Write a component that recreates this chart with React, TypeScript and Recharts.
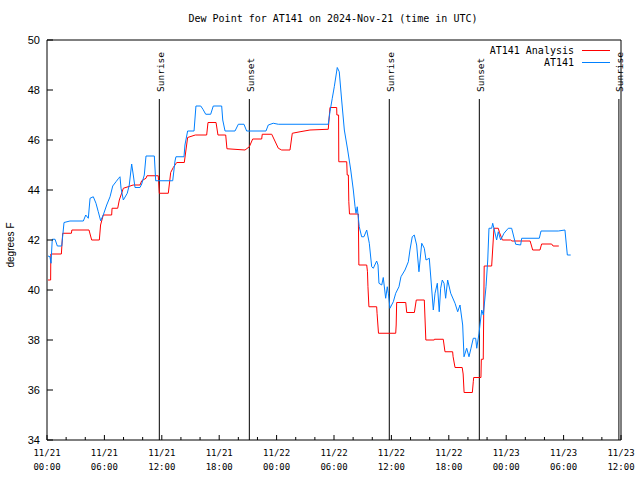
import { Legend, Line, LineChart, ReferenceLine, XAxis, YAxis } from "recharts";

// hours since 11/21 00:00 UTC, dew point in degrees F
const analysisSeries: [number, number][] = [
  [0.1, 40.4], [0.38, 40.4], [0.4, 41.44], [1.5, 41.44], [1.64, 42.27], [2.55, 42.27], [2.6, 42.4],
  [4.39, 42.4], [4.67, 42.0], [5.47, 42.0], [5.6, 42.6], [5.88, 43.0], [6.76, 43.0], [6.8, 43.27],
  [7.39, 43.27], [7.56, 43.6], [7.98, 44.07], [8.47, 44.13], [9.0, 44.2], [9.72, 44.2], [9.9, 44.37],
  [10.35, 44.47], [10.45, 44.57], [11.63, 44.57], [11.74, 43.87], [12.68, 43.87], [12.93, 44.7],
  [13.2, 44.9], [13.56, 45.1], [14.35, 45.1], [14.7, 46.1], [15.5, 46.2], [16.69, 46.2], [16.83, 46.7],
  [17.67, 46.7], [17.87, 46.2], [18.68, 46.2], [18.81, 45.65], [20.7, 45.6], [21.15, 45.73],
  [21.5, 46.04], [22.44, 46.04], [22.5, 46.23], [23.49, 46.23], [24.18, 45.67], [24.53, 45.6],
  [25.4, 45.6], [25.64, 46.27], [26.45, 46.33], [27.49, 46.4], [29.4, 46.43], [29.58, 47.3],
  [30.28, 47.3], [30.3, 47.0], [30.48, 47.0], [30.5, 45.13], [31.33, 45.13], [31.38, 44.6],
  [31.5, 44.6], [31.55, 43.53], [31.62, 43.04], [32.54, 43.04], [32.6, 41.0], [33.42, 41.0],
  [33.5, 40.73], [33.55, 40.13], [33.65, 39.33], [34.46, 39.33], [34.5, 39.07], [34.65, 38.27],
  [36.45, 38.27], [36.5, 38.6], [36.55, 39.5], [37.5, 39.5], [37.6, 39.1], [38.4, 39.1], [38.6, 39.6],
  [39.44, 39.6], [39.6, 38.0], [40.48, 38.0], [40.5, 38.03], [41.42, 38.03], [41.6, 37.53],
  [42.4, 37.53], [42.45, 37.33], [42.65, 36.9], [43.4, 36.9], [43.5, 36.64], [43.6, 35.9],
  [44.46, 35.9], [44.56, 36.33], [44.6, 36.5], [45.36, 36.5], [45.4, 37.23], [45.6, 37.23],
  [45.7, 40.96], [46.48, 40.96], [46.72, 42.47], [47.17, 42.47], [47.3, 42.3], [47.6, 42.0],
  [48.47, 42.0], [48.6, 41.96], [50.5, 41.96], [50.77, 41.6], [51.53, 41.6], [51.7, 41.84],
  [52.75, 41.84], [52.9, 41.76], [53.5, 41.76],
];

const stationSeries: [number, number][] = [
  [0.1, 41.36], [0.31, 41.33], [0.42, 41.07], [0.55, 42.03], [0.84, 42.03], [1.08, 41.76], [1.54, 41.76],
  [1.78, 42.7], [2.4, 42.76], [3.8, 42.76], [4.05, 43.0], [4.32, 42.87], [4.5, 43.67], [4.84, 43.73],
  [5.12, 43.47], [5.36, 43.13], [5.61, 42.77], [5.88, 43.0], [6.24, 43.4], [6.59, 43.73], [6.87, 44.16],
  [7.21, 44.33], [7.49, 44.47], [7.63, 44.53], [7.74, 44.07], [7.98, 43.6], [8.39, 43.87], [8.6, 44.2],
  [8.85, 45.04], [9.02, 44.6], [9.2, 44.1], [9.72, 44.1], [9.9, 44.24], [10.17, 44.6], [10.35, 45.36],
  [11.22, 45.36], [11.36, 44.37], [13.14, 44.37], [13.38, 45.16], [13.48, 45.33], [14.32, 45.33],
  [14.42, 45.8], [14.7, 46.36], [15.37, 46.36], [15.57, 47.36], [16.07, 47.36], [16.3, 47.23],
  [16.59, 47.03], [17.11, 47.03], [17.38, 47.36], [18.26, 47.36], [18.37, 46.8], [18.61, 46.36],
  [19.65, 46.36], [20.0, 46.63], [20.59, 46.63], [20.87, 46.36], [22.89, 46.36], [23.13, 46.6],
  [23.65, 46.67], [24.18, 46.63], [29.4, 46.63], [29.58, 47.13], [29.82, 47.67], [30.03, 48.13],
  [30.34, 48.9], [30.55, 48.73], [30.8, 47.6], [31.08, 46.4], [31.43, 45.6], [31.75, 44.8],
  [32.02, 44.0], [32.2, 43.33], [32.3, 43.07], [32.37, 43.2], [32.43, 43.33], [32.64, 42.53],
  [32.89, 42.13], [33.13, 42.13], [33.42, 42.4], [33.69, 41.87], [33.94, 40.93], [34.11, 40.87],
  [34.46, 41.16], [34.6, 41.0], [34.7, 40.27], [34.99, 40.2], [35.15, 40.5], [35.4, 39.67],
  [35.57, 40.13], [35.68, 39.87], [35.85, 39.27], [36.2, 39.53], [36.45, 39.87], [36.79, 40.13],
  [37.0, 40.53], [37.42, 40.8], [37.77, 41.13], [37.94, 41.6], [38.18, 42.13], [38.39, 42.2],
  [38.64, 41.8], [38.88, 40.73], [39.17, 41.87], [39.44, 41.67], [39.62, 41.2], [39.96, 41.27],
  [40.14, 40.4], [40.38, 39.2], [40.56, 39.87], [40.8, 40.27], [41.0, 39.13], [41.15, 40.07],
  [41.32, 40.4], [41.5, 40.27], [41.67, 39.67], [41.88, 40.4], [42.2, 39.87], [42.65, 39.47],
  [42.93, 39.13], [43.17, 39.4], [43.45, 38.6], [43.59, 37.33], [43.87, 37.67], [44.11, 37.33],
  [44.32, 37.67], [44.56, 38.07], [44.81, 38.07], [44.92, 37.67], [45.16, 38.27], [45.44, 39.2],
  [45.61, 39.0], [45.89, 40.13], [46.07, 41.2], [46.2, 42.47], [46.48, 42.47], [46.59, 42.67],
  [46.76, 42.4], [47.0, 42.0], [47.17, 42.33], [47.42, 42.0], [47.77, 42.27], [48.22, 42.47],
  [48.57, 42.47], [48.99, 41.83], [49.51, 41.8], [49.62, 42.07], [51.46, 42.07], [51.64, 42.36],
  [53.45, 42.36], [54.14, 42.4], [54.39, 41.4], [54.74, 41.4],
];

const sunTimes = [11.74, 21.15, 35.78, 45.19, 59.78];
const sunLabels = ["Sunrise", "Sunset", "Sunrise", "Sunset", "Sunrise"];

const xTicks = [0, 2, 4, 6, 8, 10, 12, 14, 16, 18, 20, 22, 24, 26, 28, 30, 32, 34, 36, 38, 40, 42, 44, 46, 48, 50, 52, 54, 56, 58, 60];
const yTicks = [34, 36, 38, 40, 42, 44, 46, 48, 50];

const MONO = '"DejaVu Sans Mono", monospace';
const SANS = '"Liberation Sans", Arial, sans-serif';
const RED = "#ff0000";
const BLUE = "#0080ff";

const toRows = (pts: [number, number][]) => pts.map(([t, v]) => ({ t, v }));

function tickText(h: number) {
  const day = 21 + Math.floor(h / 24);
  const hh = h % 24;
  return [`11/${day}`, `${String(hh).padStart(2, "0")}:00`];
}

function BottomTick({ x, y, payload }: any) {
  const major = payload.value % 6 === 0;
  const [d, t] = tickText(payload.value);
  return (
    <g>
      <line x1={x} y1={y} x2={x} y2={y - (major ? 5 : 3)} stroke="#000" />
      {major && (
        <text textAnchor="middle" fontFamily={MONO} fontSize={9} fill="#000">
          <tspan x={x} y={y + 16}>{d}</tspan>
          <tspan x={x} y={y + 30}>{t}</tspan>
        </text>
      )}
    </g>
  );
}

function TopTick({ x, y, payload }: any) {
  const major = payload.value % 6 === 0;
  return <line x1={x} y1={y} x2={x} y2={y + (major ? 5 : 3)} stroke="#000" />;
}

function LeftTick({ x, y, payload }: any) {
  return (
    <g>
      <line x1={x} y1={y} x2={x + 6} y2={y} stroke="#000" />
      <text x={x - 7} y={y} textAnchor="end" dominantBaseline="central" fontFamily={SANS} fontSize={11} fill="#000">
        {payload.value}
      </text>
    </g>
  );
}

function RightTick({ x, y }: any) {
  return <line x1={x} y1={y} x2={x - 6} y2={y} stroke="#000" />;
}

function LegendBox() {
  const rows = [
    { name: "AT141 Analysis", color: RED },
    { name: "AT141", color: BLUE },
  ];
  return (
    <div style={{ fontFamily: MONO, fontSize: 10 }}>
      {rows.map((r) => (
        <div key={r.name} style={{ display: "flex", justifyContent: "flex-end", alignItems: "center", height: 12 }}>
          <span>{r.name}</span>
          <span style={{ display: "inline-block", width: 28, height: 1, background: r.color, marginLeft: 8, marginRight: 5 }} />
        </div>
      ))}
    </div>
  );
}

export default function App() {
  return (
    <div style={{ position: "absolute", left: 0, top: 0, width: 640, height: 480, background: "#fff" }}>
      <div
        style={{
          position: "absolute", left: 0, top: 13, width: 666, textAlign: "center",
          fontFamily: MONO, fontSize: 10, lineHeight: "12px", whiteSpace: "nowrap",
        }}
      >
        Dew Point for AT141 on 2024-Nov-21 (time in UTC)
      </div>
      <div
        style={{
          position: "absolute", left: 10, top: 245, transform: "translate(-50%, -50%) rotate(-90deg)",
          fontFamily: SANS, fontSize: 10, whiteSpace: "nowrap",
        }}
      >
        degrees F
      </div>
      <LineChart width={640} height={480} margin={{ top: 0, right: 0, bottom: 0, left: 0 }}>
        <XAxis
          xAxisId="bottom" type="number" dataKey="t" domain={[0, 60]} ticks={xTicks} interval={0}
          height={40} tickSize={0} tickMargin={0} tickLine={false} axisLine={{ stroke: "#000" }} tick={<BottomTick />}
        />
        <XAxis
          xAxisId="top" orientation="top" type="number" domain={[0, 60]} ticks={xTicks} interval={0}
          height={40} tickSize={0} tickMargin={0} tickLine={false} axisLine={{ stroke: "#000" }} tick={<TopTick />}
        />
        <YAxis
          yAxisId="left" type="number" domain={[34, 50]} ticks={yTicks} interval={0}
          width={47} tickSize={0} tickMargin={0} tickLine={false} axisLine={{ stroke: "#000" }} tick={<LeftTick />}
        />
        <YAxis
          yAxisId="right" orientation="right" type="number" domain={[34, 50]} ticks={yTicks} interval={0}
          width={19} tickSize={0} tickMargin={0} tickLine={false} axisLine={{ stroke: "#000" }} tick={<RightTick />}
        />
        {sunTimes.map((h, i) => (
          <ReferenceLine
            key={i}
            xAxisId="bottom"
            yAxisId="left"
            segment={[{ x: h, y: 47.64 }, { x: h, y: 34 }]}
            stroke="#000"
            strokeWidth={1}
            label={({ viewBox }: any) => {
              const lx = viewBox.x + 1;
              const ly = viewBox.y - 7;
              return (
                <text
                  x={lx} y={ly} transform={`rotate(-90 ${lx} ${ly})`} textAnchor="start" dominantBaseline="central"
                  fontFamily={MONO} fontSize={9.5} fill="#000"
                >
                  {sunLabels[i]}
                </text>
              );
            }}
          />
        ))}
        <Line
          xAxisId="bottom" yAxisId="left" data={toRows(analysisSeries)} dataKey="v" name="AT141 Analysis"
          type="linear" stroke={RED} strokeWidth={1} dot={false} isAnimationActive={false}
        />
        <Line
          xAxisId="bottom" yAxisId="left" data={toRows(stationSeries)} dataKey="v" name="AT141"
          type="linear" stroke={BLUE} strokeWidth={1} dot={false} isAnimationActive={false}
        />
        <Legend
          layout="horizontal" verticalAlign="middle" align="center"
          wrapperStyle={{ left: 440, top: 44, width: 175 }}
          content={() => <LegendBox />}
        />
      </LineChart>
    </div>
  );
}
